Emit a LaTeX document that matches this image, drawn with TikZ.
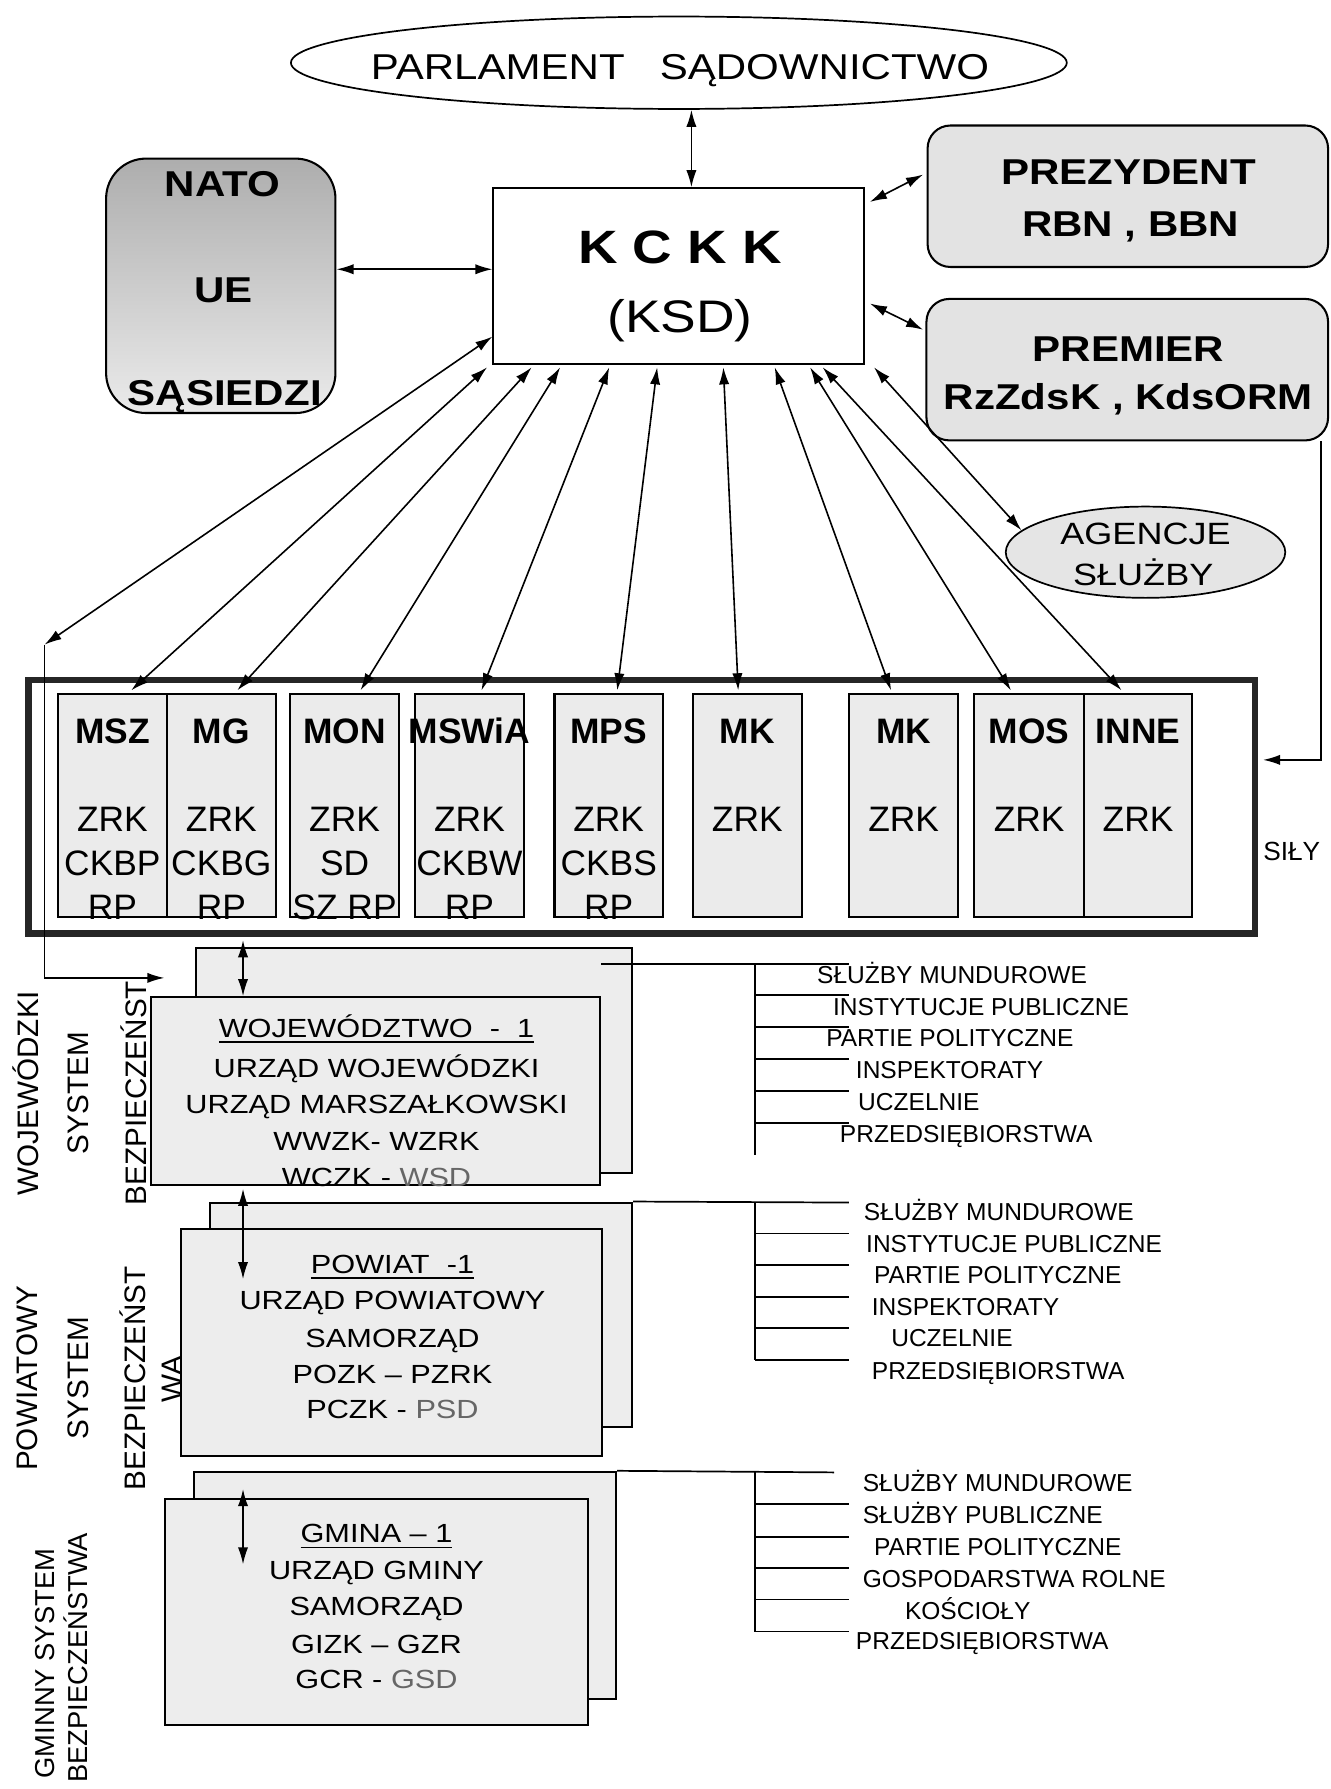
\documentclass[tikz,border=0pt]{standalone}
\usepackage{fontspec}
\setmainfont{Liberation Sans}
\newfontfamily\szer[FakeStretch=1.17]{Liberation Sans}
\usetikzlibrary{arrows.meta,shapes.geometric}
\newcommand{\rozm}[1]{\fontsize{#1}{#1}\selectfont}
\newcommand{\podkr}[1]{\setbox0=\hbox{#1}\rlap{\rule[-5pt]{\wd0}{1.4pt}}\box0}
\begin{document}
\begin{tikzpicture}[x=1pt,y=-1pt,>={Latex[length=15pt,width=9pt]},
  ramka/.style={draw,line width=1.8pt,inner sep=0pt},
  owal/.style={ellipse,draw,line width=1.5pt,inner sep=0pt},
  szary/.style={ramka,rounded corners=20pt,fill=black!11},
  resort/.style={ramka,fill=black!8},
  arkusz/.style={ramka,fill=black!7},
  polacz/.style={<->,line width=1.4pt},
  galaz/.style={line width=1.5pt},
  napis/.style={anchor=base,inner sep=0pt},
  gruby/.style={napis,font=\szer\bfseries\rozm{31.5}},
  blok/.style={napis,font=\szer\rozm{23}},
  etyk/.style={anchor=base west,inner sep=0pt,font=\rozm{21.5}},
  boczny/.style={napis,rotate=90,font=\rozm{26}}]
\useasboundingbox (0,0) rectangle (1166,1568);

% gorna czesc
\node[owal,minimum width=680,minimum height=81] (sejm) at (595,55) {};
\node[ramka,minimum width=325,minimum height=154] (kckk) at (595,242) {};
\node[ramka,rounded corners=35pt,top color=black!32,middle color=black!11,bottom color=black!8,
  minimum width=201,minimum height=223] (nato) at (193.5,250.5) {};
\node[szary,minimum width=351,minimum height=124] (prez) at (988.5,172) {};
\node[szary,minimum width=352,minimum height=124] (prem) at (988,324) {};
\node[owal,fill=black!10,minimum width=245,minimum height=80] (agen) at (1004,484) {};

% sily i resorty
\node[draw=black!85,line width=6pt,inner sep=0pt,minimum width=1075,minimum height=222] (sily) at (562.5,707) {};
\foreach \nm/\xl/\xr/\ttl/\tresc in {msz/51/146/MSZ/{ZRK,CKBP,RP},mg/146/242/MG/{ZRK,CKBG,RP},
    mon/254/350/MON/{ZRK,SD,SZ RP},mswia/364/459/MSWiA/{ZRK,CKBW,RP},mps/486/581/MPS/{ZRK,CKBS,RP},
    mk/607/703/MK/{ZRK},mkb/744/840/MK/{ZRK},mos/854/950/MOS/{ZRK},inne/950/1045/INNE/{ZRK}}
{
  \node[resort,minimum width=\xr-\xl,minimum height=196] (\nm) at ({(\xl+\xr)/2},706) {};
  \node[napis,font=\bfseries\rozm{31}] (\nm-t) at ({(\xl+\xr)/2},652) {\ttl};
  \foreach \w [count=\i] in \tresc
    \node[napis,font=\rozm{31}] (\nm-\i) at ({(\xl+\xr)/2},{729+38.5*(\i-1)}) {\w};
}
\node[etyk,font=\rozm{23}] (silyt) at (1107,754) {SIŁY};

% arkusze: wojewodztwo, powiat, gmina
\node[arkusz,minimum width=382,minimum height=197] (wojtyl) at (363,929.5) {};
\node[arkusz,minimum width=394,minimum height=165] (wojprz) at (329,956.5) {};
\node[arkusz,minimum width=370,minimum height=197] (powtyl) at (369,1152.5) {};
\node[arkusz,minimum width=369,minimum height=199] (powprz) at (343.5,1176.5) {};
\node[arkusz,minimum width=370,minimum height=199] (gmtyl) at (355,1389.5) {};
\node[arkusz,minimum width=370,minimum height=198] (gmprz) at (330,1413) {};

% polaczenia z KCKK
\draw[polacz] ([xshift=11pt]sejm.south) -- ([xshift=11pt]kckk.north);
\draw[polacz] ([yshift=14.5pt]nato.east) -- ([yshift=6pt]kckk.west);
\draw[polacz] ([xshift=4pt,yshift=65pt]kckk.east) -- ([xshift=-3pt,yshift=19pt]prez.west);
\draw[polacz] ([xshift=4pt,yshift=-24pt]kckk.east) -- ([xshift=-2pt,yshift=35pt]prem.west);
\foreach \nm/\gora/\dol in {msz/-168/16.5,mg/-129/14,mon/-104/14,mswia/-61/10.5,mps/-19/7.5,
    mk/39/-8,mkb/84/-11,mos/115/-16,inne/126/-14.5}
  \draw[polacz] ([xshift=\gora,yshift=-2pt]kckk.south) -- ([xshift=\dol,yshift=2pt]\nm.north);
\draw[polacz] ([xshift=171pt,yshift=-2pt]kckk.south) -- (agen.170);
\coordinate (lewy) at (39,565);
\draw[polacz] ([yshift=-53pt]kckk.west) -- (lewy);
\draw[->,line width=1.4pt] (lewy) |- ([xshift=13pt,yshift=16pt]wojprz.north west);
\draw[->,line width=1.4pt] ([xshift=-7pt]prem.south east) |- ([xshift=4pt,yshift=41pt]sily.east);

% szczeble
\draw[polacz] ([xshift=-349.5pt,yshift=-3pt]sily.south) -- ([xshift=-116pt]wojprz.north);
\draw[polacz] ([xshift=-116pt,yshift=-2pt]wojprz.south) -- ([xshift=-130.5pt,yshift=-45pt]powprz.north);
\draw[polacz] ([xshift=-117pt,yshift=8pt]gmprz.north) -- ([xshift=-117pt,yshift=-58pt]gmprz.north);

% galezie po prawej
\draw[galaz] ([yshift=111.5pt]wojprz.east) -- (744,845);
\draw[galaz] (662,845) -- (662,1012);
\foreach \y in {872,900,928,956,984} \draw[galaz] (662,\y) -- (744,\y);
\draw[galaz] (powtyl.north east) -- (744,1054);
\draw[galaz] (662,1054) -- (662,1192);
\foreach \y in {1081,1109,1137,1164,1192} \draw[galaz] (662,\y) -- (744,\y);
\draw[galaz] (gmtyl.north east) -- (731,1290.5);
\draw[galaz] (662,1290.5) -- (662,1430);
\foreach \y in {1318,1347,1374,1402,1430} \draw[galaz] (662,\y) -- (744,\y);

% napisy
\node[napis,font=\szer\rozm{31.5}] (sejmt) at (596,70) {PARLAMENT\ \ \ SĄDOWNICTWO};
\node[napis,font=\szer\bfseries\rozm{41}] (kckk1) at (596,231) {K C K K};
\node[napis,font=\szer\rozm{40}] (kckk2) at (596,291) {(KSD)};
\node[gruby] (nato1) at (195,172) {NATO};
\node[gruby] (nato2) at (196,265) {UE};
\node[gruby] (nato3) at (197,355) {SĄSIEDZI};
\node[gruby] (prez1) at (989,162) {PREZYDENT};
\node[gruby] (prez2) at (991,207) {RBN , BBN};
\node[gruby] (prem1) at (989,317) {PREMIER};
\node[gruby] (prem2) at (989,359) {RzZdsK , KdsORM};
\node[napis,font=\szer\rozm{27}] (agen1) at (1004,477) {AGENCJE};
\node[napis,font=\szer\rozm{27}] (agen2) at (1002,513) {SŁUŻBY};

\foreach \t/\y [count=\i] in {{\podkr{WOJEWÓDZTWO\ \ -\ \ 1}}/909,URZĄD WOJEWÓDZKI/944,
    URZĄD MARSZAŁKOWSKI/976,WWZK- WZRK/1008,{WCZK - {\color{black!60}WSD}}/1040}
  \node[blok] (woj-\i) at (330,\y) {\t};
\foreach \t/\y [count=\i] in {{\podkr{POWIAT\ \ -1}}/1116,URZĄD POWIATOWY/1148,
    SAMORZĄD/1181,POZK – PZRK/1213,{PCZK - {\color{black!60}PSD}}/1243}
  \node[blok] (pow-\i) at (344,\y) {\t};
\foreach \t/\y [count=\i] in {{\podkr{GMINA – 1}}/1352,URZĄD GMINY/1384,
    SAMORZĄD/1416,GIZK – GZR/1449,{GCR - {\color{black!60}GSD}}/1480}
  \node[blok] (gm-\i) at (330,\y) {\t};

\foreach \x/\y/\t [count=\i] in {716/862/SŁUŻBY MUNDUROWE,730/890/INSTYTUCJE PUBLICZNE,
    724/917/PARTIE POLITYCZNE,750/945/INSPEKTORATY,752/973/UCZELNIE,736/1001/PRZEDSIĘBIORSTWA}
  \node[etyk] (wl\i) at (\x,\y) {\t};
\foreach \x/\y/\t [count=\i] in {757/1070/SŁUŻBY MUNDUROWE,759/1098/INSTYTUCJE PUBLICZNE,
    766/1125/PARTIE POLITYCZNE,764/1153/INSPEKTORATY,781/1180/UCZELNIE,764/1209/PRZEDSIĘBIORSTWA}
  \node[etyk] (pl\i) at (\x,\y) {\t};
\foreach \x/\y/\t [count=\i] in {756/1307/SŁUŻBY MUNDUROWE,756/1335/SŁUŻBY PUBLICZNE,
    766/1363/PARTIE POLITYCZNE,756/1391/GOSPODARSTWA ROLNE,793/1419/KOŚCIOŁY,750/1446/PRZEDSIĘBIORSTWA}
  \node[etyk] (gl\i) at (\x,\y) {\t};

% opisy z boku
\node[boczny] (bw1) at (34,958) {WOJEWÓDZKI};
\node[boczny] (bw2) at (78,958) {SYSTEM};
\node[boczny] (bw3) at (128,958) {BEZPIECZEŃST};
\node[boczny] (bp1) at (32.5,1208) {POWIATOWY};
\node[boczny] (bp2) at (78,1208) {SYSTEM};
\node[boczny] (bp3) at (127.5,1208) {BEZPIECZEŃST};
\node[boczny] (bp4) at (160,1209) {WA};
\node[boczny,font=\rozm{24}] (bg1) at (48,1458) {GMINNY SYSTEM};
\node[boczny,font=\rozm{24}] (bg2) at (77,1453) {BEZPIECZEŃSTWA};
\end{tikzpicture}
\end{document}
